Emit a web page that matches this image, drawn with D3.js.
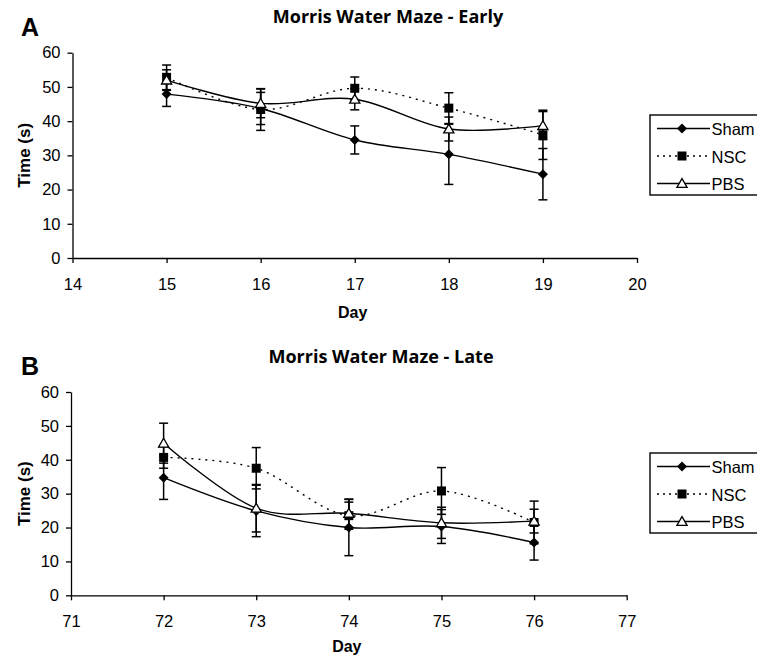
<!DOCTYPE html>
<html>
<head>
<meta charset="utf-8">
<script src="https://cdn.jsdelivr.net/npm/d3@7"></script>
<style>
  body { margin: 0; background: #fff; }
  svg { display: block; }
  text { font-family: "Liberation Sans", Arial, sans-serif; }
</style>
</head>
<body>
<svg id="chart" width="757" height="661"></svg>
<script>
var seriesNames = ["Sham", "NSC", "PBS"];
var yTicks = [0, 10, 20, 30, 40, 50, 60];

// panel A - early
var daysEarly = [15, 16, 17, 18, 19];
var xTicksEarly = [14, 15, 16, 17, 18, 19, 20];
var shamEarly = [47.9, 43.7, 34.5, 30.3, 24.5];
var shamEarlyErr = [3.6, 4.7, 4.1, 8.8, 7.5];
var nscEarly = [52.8, 43.4, 49.6, 43.8, 36.0];
var nscEarlyErr = [3.6, 6.1, 3.3, 4.5, 7.2];
var pbsEarly = [52.0, 45.2, 46.4, 37.7, 38.7];
var pbsEarlyErr = [3.0, 4.2, 3.1, 3.5, 4.1];

// panel B - late
var daysLate = [72, 73, 74, 75, 76];
var xTicksLate = [71, 72, 73, 74, 75, 76, 77];
var shamLate = [34.7, 24.9, 20.0, 20.3, 15.6];
var shamLateErr = [6.4, 7.6, 8.3, 5.0, 5.2];
var nscLate = [40.7, 37.5, 23.5, 30.8, 21.5];
var nscLateErr = [3.2, 6.1, 4.0, 6.9, 6.3];
var pbsLate = [44.9, 25.7, 24.2, 21.4, 21.9];
var pbsLateErr = [5.9, 7.0, 4.2, 4.6, 3.5];

var svg = d3.select("#chart");

function marker(sel, name) {
  if (name == "Sham") {
    sel.append("path")
      .attr("d", d3.symbol().type(d3.symbolSquare).size(50)())
      .attr("transform", "rotate(45)")
      .attr("fill", "#000");
  } else if (name == "NSC") {
    sel.append("path")
      .attr("d", d3.symbol().type(d3.symbolSquare).size(81)())
      .attr("fill", "#000");
  } else {
    sel.append("path")
      .attr("d", d3.symbol().type(d3.symbolTriangle).size(45)())
      .attr("transform", "translate(0,1)")
      .attr("fill", "#fff")
      .attr("stroke", "#000")
      .attr("stroke-width", 1.3);
  }
}

function drawPanel(p) {
  var x = d3.scaleLinear().domain([p.xTicks[0], p.xTicks[p.xTicks.length - 1]]).range([p.left, p.right]);
  var y = d3.scaleLinear().domain([0, 60]).range([p.bottom, p.top]);
  var g = svg.append("g");

  g.append("text").text(p.letter)
    .attr("x", 21).attr("y", p.letterY)
    .style("font-size", "25px").style("font-weight", "bold");

  g.append("text").text(p.title)
    .attr("x", p.titleX).attr("y", p.titleY)
    .attr("text-anchor", "middle")
    .style("font-family", "'Open Sans', sans-serif")
    .style("font-size", "18px").style("font-weight", "bold");

  var yAxis = g.append("g")
    .attr("transform", "translate(" + p.left + ",0)")
    .call(d3.axisLeft(y).tickValues(yTicks).tickSize(5).tickSizeOuter(0).tickPadding(7).tickFormat(d3.format("d")));
  var xAxis = g.append("g")
    .attr("transform", "translate(0," + p.bottom + ")")
    .call(d3.axisBottom(x).tickValues(p.xTicks).tickSize(5).tickSizeOuter(0).tickPadding(15).tickFormat(d3.format("d")));
  [yAxis, xAxis].forEach(function(a) {
    a.selectAll("path, line").attr("stroke", "#000").attr("stroke-width", 1.3);
    a.selectAll("text").style("font-size", "16.5px").style("font-family", "'Liberation Sans', Arial, sans-serif").attr("fill", "#000");
  });

  g.append("text").text("Time (s)")
    .attr("transform", "translate(30," + ((p.top + p.bottom) / 2) + ") rotate(-90)")
    .attr("text-anchor", "middle")
    .style("font-size", "17px").style("font-weight", "bold");

  g.append("text").text("Day")
    .attr("x", (p.left + p.right) / 2 - 2).attr("y", p.dayY)
    .attr("text-anchor", "middle")
    .style("font-size", "16px").style("font-weight", "bold");

  var line = d3.line()
    .x(function(d) { return x(d[0]); })
    .y(function(d) { return y(d[1]); })
    .curve(d3.curveCardinal.tension(0));

  p.series.forEach(function(s, si) {
    var pts = p.days.map(function(d, i) { return [d, s[i], p.errs[si][i]]; });
    // error bars
    pts.forEach(function(d) {
      var eg = g.append("g").attr("stroke", "#000").attr("stroke-width", 1.5);
      eg.append("line").attr("x1", x(d[0])).attr("x2", x(d[0]))
        .attr("y1", y(d[1] - d[2])).attr("y2", y(d[1] + d[2]));
      [d[1] - d[2], d[1] + d[2]].forEach(function(v) {
        eg.append("line").attr("x1", x(d[0]) - 4.5).attr("x2", x(d[0]) + 4.5)
          .attr("y1", y(v)).attr("y2", y(v));
      });
    });
    g.append("path").datum(pts)
      .attr("d", line)
      .attr("fill", "none")
      .attr("stroke", "#000")
      .attr("stroke-width", 1.4)
      .attr("stroke-dasharray", seriesNames[si] == "NSC" ? "2,5" : null);
    pts.forEach(function(d) {
      var mg = g.append("g").attr("transform", "translate(" + x(d[0]) + "," + y(d[1]) + ")");
      marker(mg, seriesNames[si]);
    });
  });

  // legend
  var lg = g.append("g").attr("transform", "translate(" + p.legX + "," + p.legY + ")");
  lg.append("rect").attr("x", 0).attr("y", 0).attr("width", 130).attr("height", 80)
    .attr("fill", "#fff").attr("stroke", "#000").attr("stroke-width", 1.4);
  seriesNames.forEach(function(name, i) {
    var yy = 13.5 + i * 27.5;
    lg.append("line").attr("x1", 7).attr("x2", 60).attr("y1", yy).attr("y2", yy)
      .attr("stroke", "#000").attr("stroke-width", 1.4)
      .attr("stroke-dasharray", name == "NSC" ? "2,4" : null);
    marker(lg.append("g").attr("transform", "translate(32," + yy + ")"), name);
    lg.append("text").text(name).attr("x", 61.5).attr("y", yy + 6.5)
      .style("font-size", "16.5px");
  });
}

drawPanel({
  letter: "A", letterY: 36, title: "Morris Water Maze - Early", titleX: 388, titleY: 23,
  left: 72.5, right: 637, top: 52.7, bottom: 258, dayY: 318,
  xTicks: xTicksEarly, days: daysEarly,
  series: [shamEarly, nscEarly, pbsEarly], errs: [shamEarlyErr, nscEarlyErr, pbsEarlyErr],
  legX: 650, legY: 115
});

drawPanel({
  letter: "B", letterY: 375, title: "Morris Water Maze - Late", titleX: 381, titleY: 363,
  left: 71, right: 626.7, top: 392, bottom: 595.3, dayY: 652,
  xTicks: xTicksLate, days: daysLate,
  series: [shamLate, nscLate, pbsLate], errs: [shamLateErr, nscLateErr, pbsLateErr],
  legX: 650, legY: 453
});
</script>
</body>
</html>
